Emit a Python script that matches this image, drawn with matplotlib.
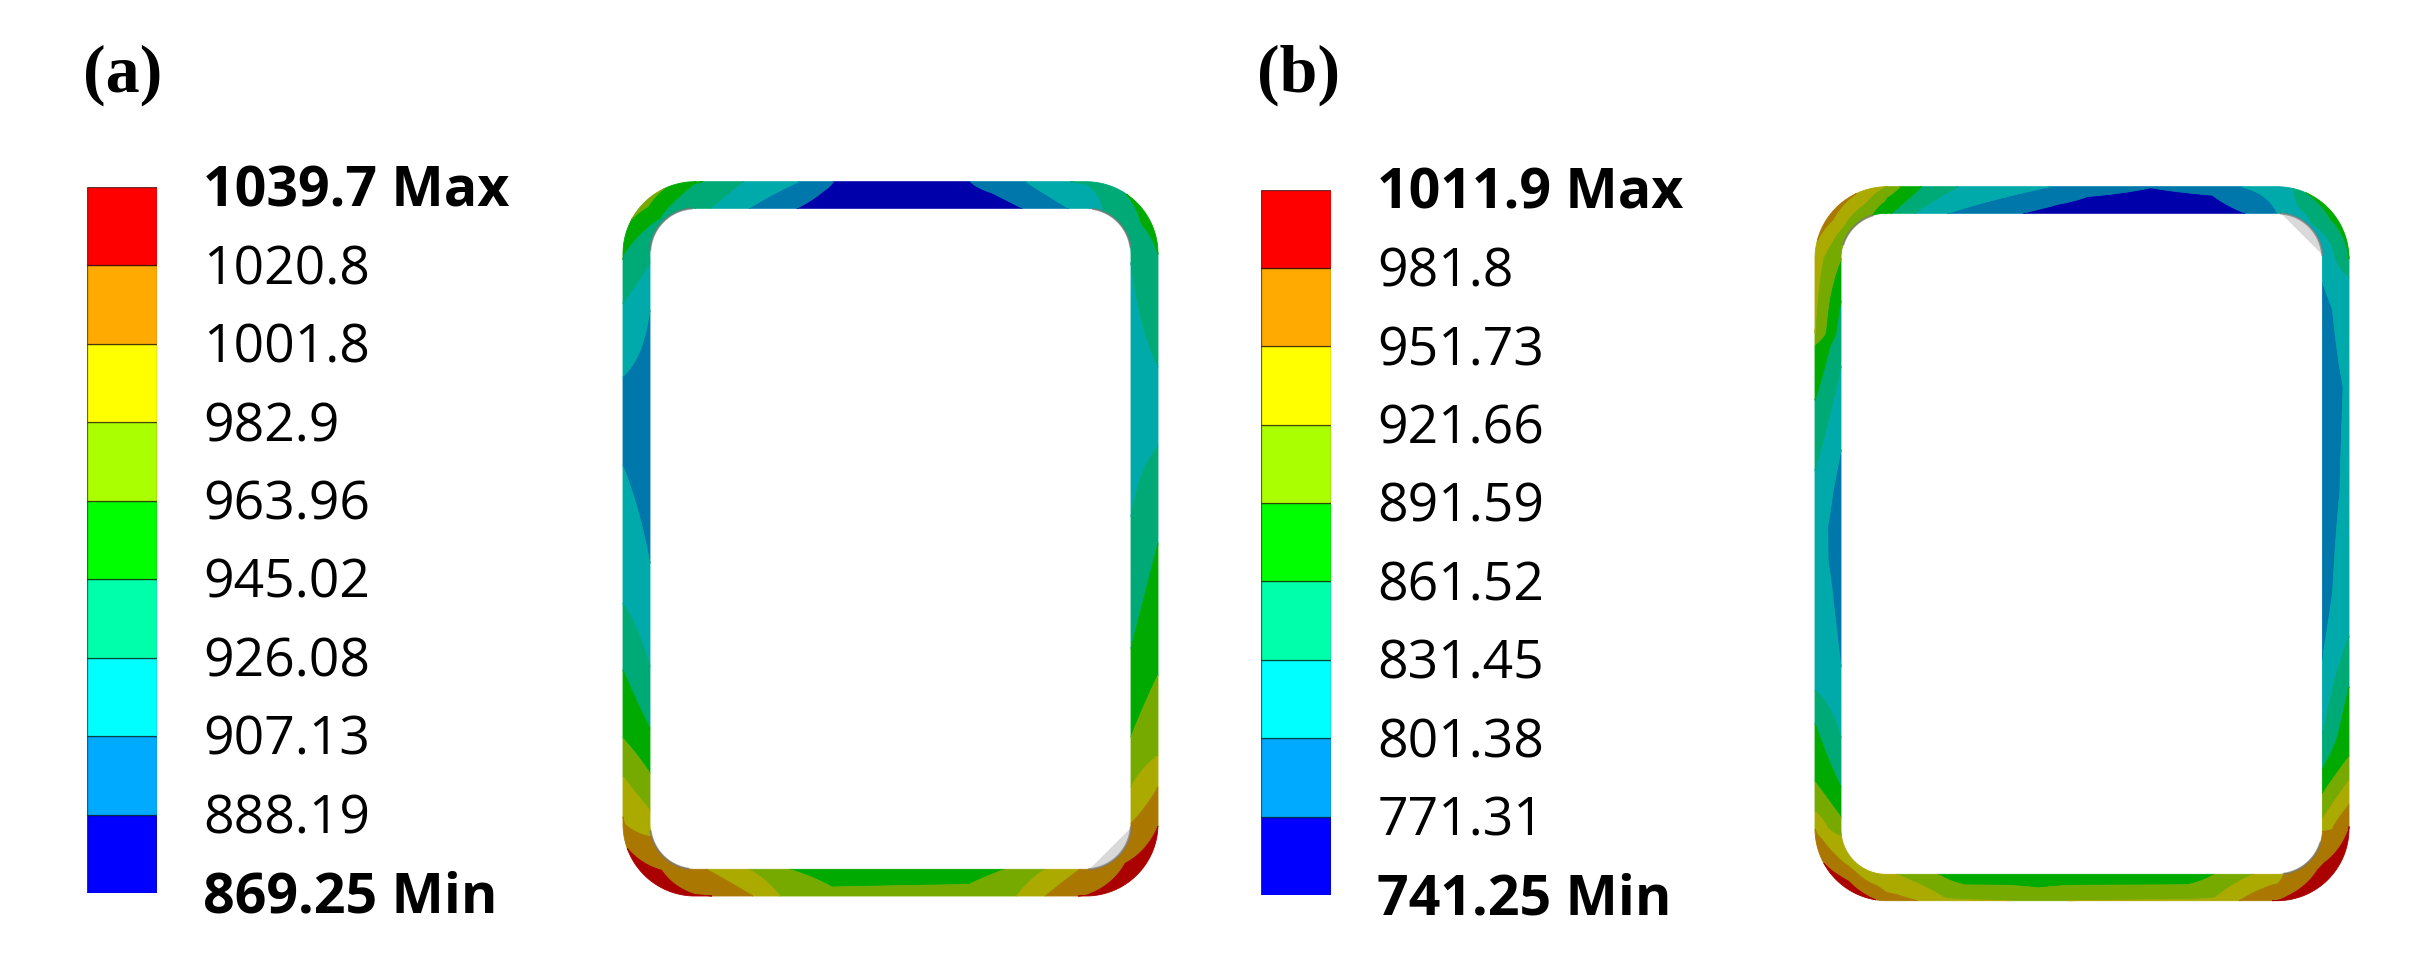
import numpy as np
import matplotlib
matplotlib.use('Agg')
import matplotlib.pyplot as plt
from matplotlib.transforms import offset_copy

W, H = 2415, 969

# legend colours, low to high (the ring uses the same ones dimmed)
bright = ['#0000ff', '#00aaff', '#00ffff', '#00ffaa', '#00ff00',
          '#aaff00', '#ffff00', '#ffaa00', '#ff0000']
dimmed = ['#0000aa', '#0077aa', '#00aaaa', '#00aa77', '#00aa00',
          '#77aa00', '#aaaa00', '#aa7700', '#aa0000']

# contour levels of each panel
levels_a = [869.25, 888.19, 907.13, 926.08, 945.02, 963.96, 982.9, 1001.8, 1020.8, 1039.7]
levels_b = [741.25, 771.31, 801.38, 831.45, 861.52, 891.59, 921.66, 951.73, 981.8, 1011.9]
labels_a = ['869.25 Min', '888.19', '907.13', '926.08', '945.02', '963.96', '982.9', '1001.8', '1020.8', '1039.7 Max']
labels_b = ['741.25 Min', '771.31', '801.38', '831.45', '861.52', '891.59', '921.66', '951.73', '981.8', '1011.9 Max']

# stress read along the ring edges, clockwise. s: 0-1 top, 1-2 top right corner,
# 2-3 right, 3-4 bottom right corner, 4-5 bottom, 5-6 bottom left corner, 6-7 left, 7-8 top left corner
a_outer_s = [0.02, 0.123, 0.266, 0.354, 0.40, 0.66, 0.704, 0.846, 0.96, 1.38, 1.7, 2.002, 2.198, 2.27, 2.338, 2.508,
             2.739, 2.880, 2.935, 3.02, 3.5, 4.02, 4.104, 4.178, 4.3, 4.65, 4.783, 4.852, 4.956, 5.4, 5.78,
             6.013, 6.083, 6.150, 6.27, 6.387, 6.627, 6.70, 6.785, 6.913, 6.989, 7.32, 7.5, 7.72]
a_outer_v = [945.02, 926.08, 907.13, 888.19, 878, 878, 888.19, 907.13, 926.08, 945.02, 952, 945.02, 926.08, 920, 926.08, 945.02,
             963.96, 982.9, 1001.8, 1020.8, 1035, 1020.8, 1001.8, 982.9, 970, 968, 982.9, 1001.8, 1020.8, 1032, 1020.8,
             1001.8, 982.9, 963.96, 945.02, 926.08, 907.13, 900, 907.13, 926.08, 945.02, 963.96, 970, 963.96]
a_inner_s = [0.04, 0.138, 0.26, 0.33, 0.76, 0.837, 0.955, 1.25, 1.65, 2.017, 2.24, 2.461, 2.692, 2.847, 2.935, 2.998,
             3.5, 4.016, 4.104, 4.208, 4.3, 4.65, 4.759, 4.862, 4.97, 5.4, 5.82, 6.025, 6.089, 6.168, 6.276, 6.457,
             6.68, 6.901, 6.983, 7.5]
a_inner_v = [926.08, 907.13, 888.19, 878, 878, 888.19, 907.13, 926.08, 932, 926.08, 915, 926.08, 945.02, 963.96, 982.9, 1001.8,
             1012, 1001.8, 982.9, 963.96, 956, 956, 963.96, 982.9, 1001.8, 1012, 1001.8, 982.9, 963.96, 945.02, 926.08, 907.13,
             895, 907.13, 926.08, 940]

b_outer_s = [0.034, 0.088, 0.182, 0.419, 0.513, 0.587, 0.676, 0.834, 0.908, 1.14, 1.265, 1.6, 2.0, 2.032, 2.09, 2.225, 2.41, 2.586, 2.663, 2.751, 2.874,
             2.915, 2.958, 2.994, 3.5, 4.013, 4.097, 4.16, 4.537, 4.61, 4.685, 4.85, 4.922, 5.10, 5.4, 5.68, 5.995, 6.03,
             6.082, 6.185, 6.243, 6.354, 6.413, 6.47, 6.53, 6.589, 6.629, 6.752, 6.849, 6.869, 7.165, 7.4, 7.72, 7.98]
b_outer_v = [891.59, 861.52, 831.45, 801.38, 781, 777, 772, 779, 801.38, 831.45, 861.52, 872, 861.52, 831.45, 820, 806, 810, 823, 831.45, 861.52, 891.59,
             921.66, 951.73, 981.8, 1005, 981.8, 951.73, 925, 921.66, 912, 921.66, 925, 951.73, 981.8, 1000, 981.8, 951.73, 921.66,
             891.59, 861.52, 831.45, 826, 825, 817, 816, 826, 831.45, 861.52, 891.59, 921.66, 951.73, 965, 951.73, 921.66]
b_inner_s = [0.014, 0.073, 0.157, 0.35, 0.439, 0.513, 0.834, 0.918, 1.0, 1.5, 2.043, 2.09, 2.225, 2.41, 2.586, 2.704, 2.833, 2.894, 2.938, 2.982,
             3.03, 3.4, 3.91, 4.062, 4.161, 4.23, 4.8, 4.868, 4.972, 5.5, 5.90, 6.021, 6.074, 6.161, 6.284, 6.354, 6.413, 6.47, 6.53, 6.589,
             6.665, 6.811, 6.925, 6.998, 7.4, 7.79]
b_inner_v = [861.52, 831.45, 801.38, 771.31, 758, 755, 755, 771.31, 801.38, 825, 801.38, 790, 785, 785, 788, 801.38, 831.45, 861.52, 891.59, 921.66,
             951.73, 965, 951.73, 921.66, 891.59, 870, 870, 891.59, 921.66, 935, 921.66, 891.59, 861.52, 831.45, 801.38, 796, 790, 786, 786, 790,
             801.38, 831.45, 861.52, 891.59, 902, 891.59]


def rounded_rect(s, x0, y0, x1, y1, r):
    # point on a rounded rectangle for the clockwise parameter s (see above)
    s = np.mod(s, 8.0)
    seg = np.floor(s).astype(int)
    f = s - seg
    a = f * np.pi / 2
    sin, cos = np.sin(a), np.cos(a)
    w = x1 - x0 - 2 * r
    h = y1 - y0 - 2 * r
    xs = [x0 + r + f * w, x1 - r + r * sin, x1 + 0 * f, x1 - r + r * cos,
          x1 - r - f * w, x0 + r - r * sin, x0 + 0 * f, x0 + r - r * cos]
    ys = [y0 + 0 * f, y0 + r - r * cos, y0 + r + f * h, y1 - r + r * sin,
          y1 + 0 * f, y1 - r + r * cos, y1 - r - f * h, y0 + r - r * sin]
    x = np.choose(seg, xs)
    y = np.choose(seg, ys)
    return x, y


def draw_ring(ax, outer, inner, outer_s, outer_v, inner_s, inner_v, levels):
    mesh_s = np.linspace(0, 8, 2401)
    ox, oy = rounded_rect(mesh_s, *outer)
    ix, iy = rounded_rect(mesh_s, *inner)
    X = np.vstack([ox, ix])
    Y = np.vstack([oy, iy])
    Z = np.vstack([np.interp(mesh_s, outer_s, outer_v, period=8),
                   np.interp(mesh_s, inner_s, inner_v, period=8)])
    cs = ax.contourf(X, Y, Z, levels=levels, colors=dimmed, antialiased=True)
    cs.set_edgecolor('face')
    cs.set_linewidth(0.6)


def grey_corner(ax, inner, s0, s1, fill):
    # undeformed body showing through at an inner corner
    s = np.linspace(s0, s1, 40)
    x, y = rounded_rect(s, *inner)
    if fill:
        ax.fill(x, y, color='#d9d9d9', lw=0, zorder=3)
    ax.plot(x, y, color='#777777', lw=1.6, alpha=0.7, zorder=4)


def draw_legend(fig, left, top, right, bottom, levels, labels, letter, letter_x):
    cax = fig.add_axes([left / W, 1 - bottom / H, (right - left) / W, (bottom - top) / H])
    cax.bar(0, np.diff(levels), bottom=levels[:-1], width=1, color=bright,
            edgecolor=(0, 0, 0, 0.6), linewidth=0.9, align='center')
    cax.set_xlim(-0.5, 0.5)
    cax.set_ylim(levels[0], levels[-1])
    cax.axis('off')
    trans = offset_copy(cax.get_yaxis_transform(), fig, y=1.5, units='dots')
    for i, (lev, lab) in enumerate(zip(levels, labels)):
        bold = i == 0 or i == len(levels) - 1
        cax.text(1.66, lev, lab, transform=trans, ha='left', va='center_baseline',
                 fontsize=40 if bold else 38.5, family='Open Sans',
                 fontweight='bold' if bold else 'normal', color='black')
    fig.text(letter_x / W, 1 - 75 / H, letter, ha='left', va='center', fontsize=49,
             family='Liberation Serif', fontweight='bold', color='black')


fig = plt.figure(figsize=(W / 100, H / 100), dpi=100)
ax = fig.add_axes([0, 0, 1, 1])
ax.set_xlim(0, W)
ax.set_ylim(H, 0)
ax.axis('off')

# ring boxes: x0, y0, x1, y1, radius
outer_a = (623, 181.7, 1158, 896, 72)
inner_a = (650, 208.3, 1131, 869.3, 45)
outer_b = (1815, 186.7, 2349, 900.7, 72)
inner_b = (1841, 213.3, 2322.5, 874.3, 45)

draw_ring(ax, outer_a, inner_a, a_outer_s, a_outer_v, a_inner_s, a_inner_v, levels_a)
draw_ring(ax, outer_b, inner_b, b_outer_s, b_outer_v, b_inner_s, b_inner_v, levels_b)

grey_corner(ax, inner_a, 3.05, 3.95, True)
grey_corner(ax, inner_a, 7.05, 7.95, False)
grey_corner(ax, inner_a, 1.1, 1.9, False)
grey_corner(ax, inner_a, 5.1, 5.9, False)
grey_corner(ax, inner_b, 1.05, 1.95, True)
grey_corner(ax, inner_b, 3.2, 3.9, False)
grey_corner(ax, inner_b, 7.2, 7.8, False)

draw_legend(fig, 87, 187, 157, 893, levels_a, labels_a, '(a)', 83)
draw_legend(fig, 1261, 189.5, 1331, 895, levels_b, labels_b, '(b)', 1257)

fig.savefig('out.png', dpi=100)
plt.close(fig)
